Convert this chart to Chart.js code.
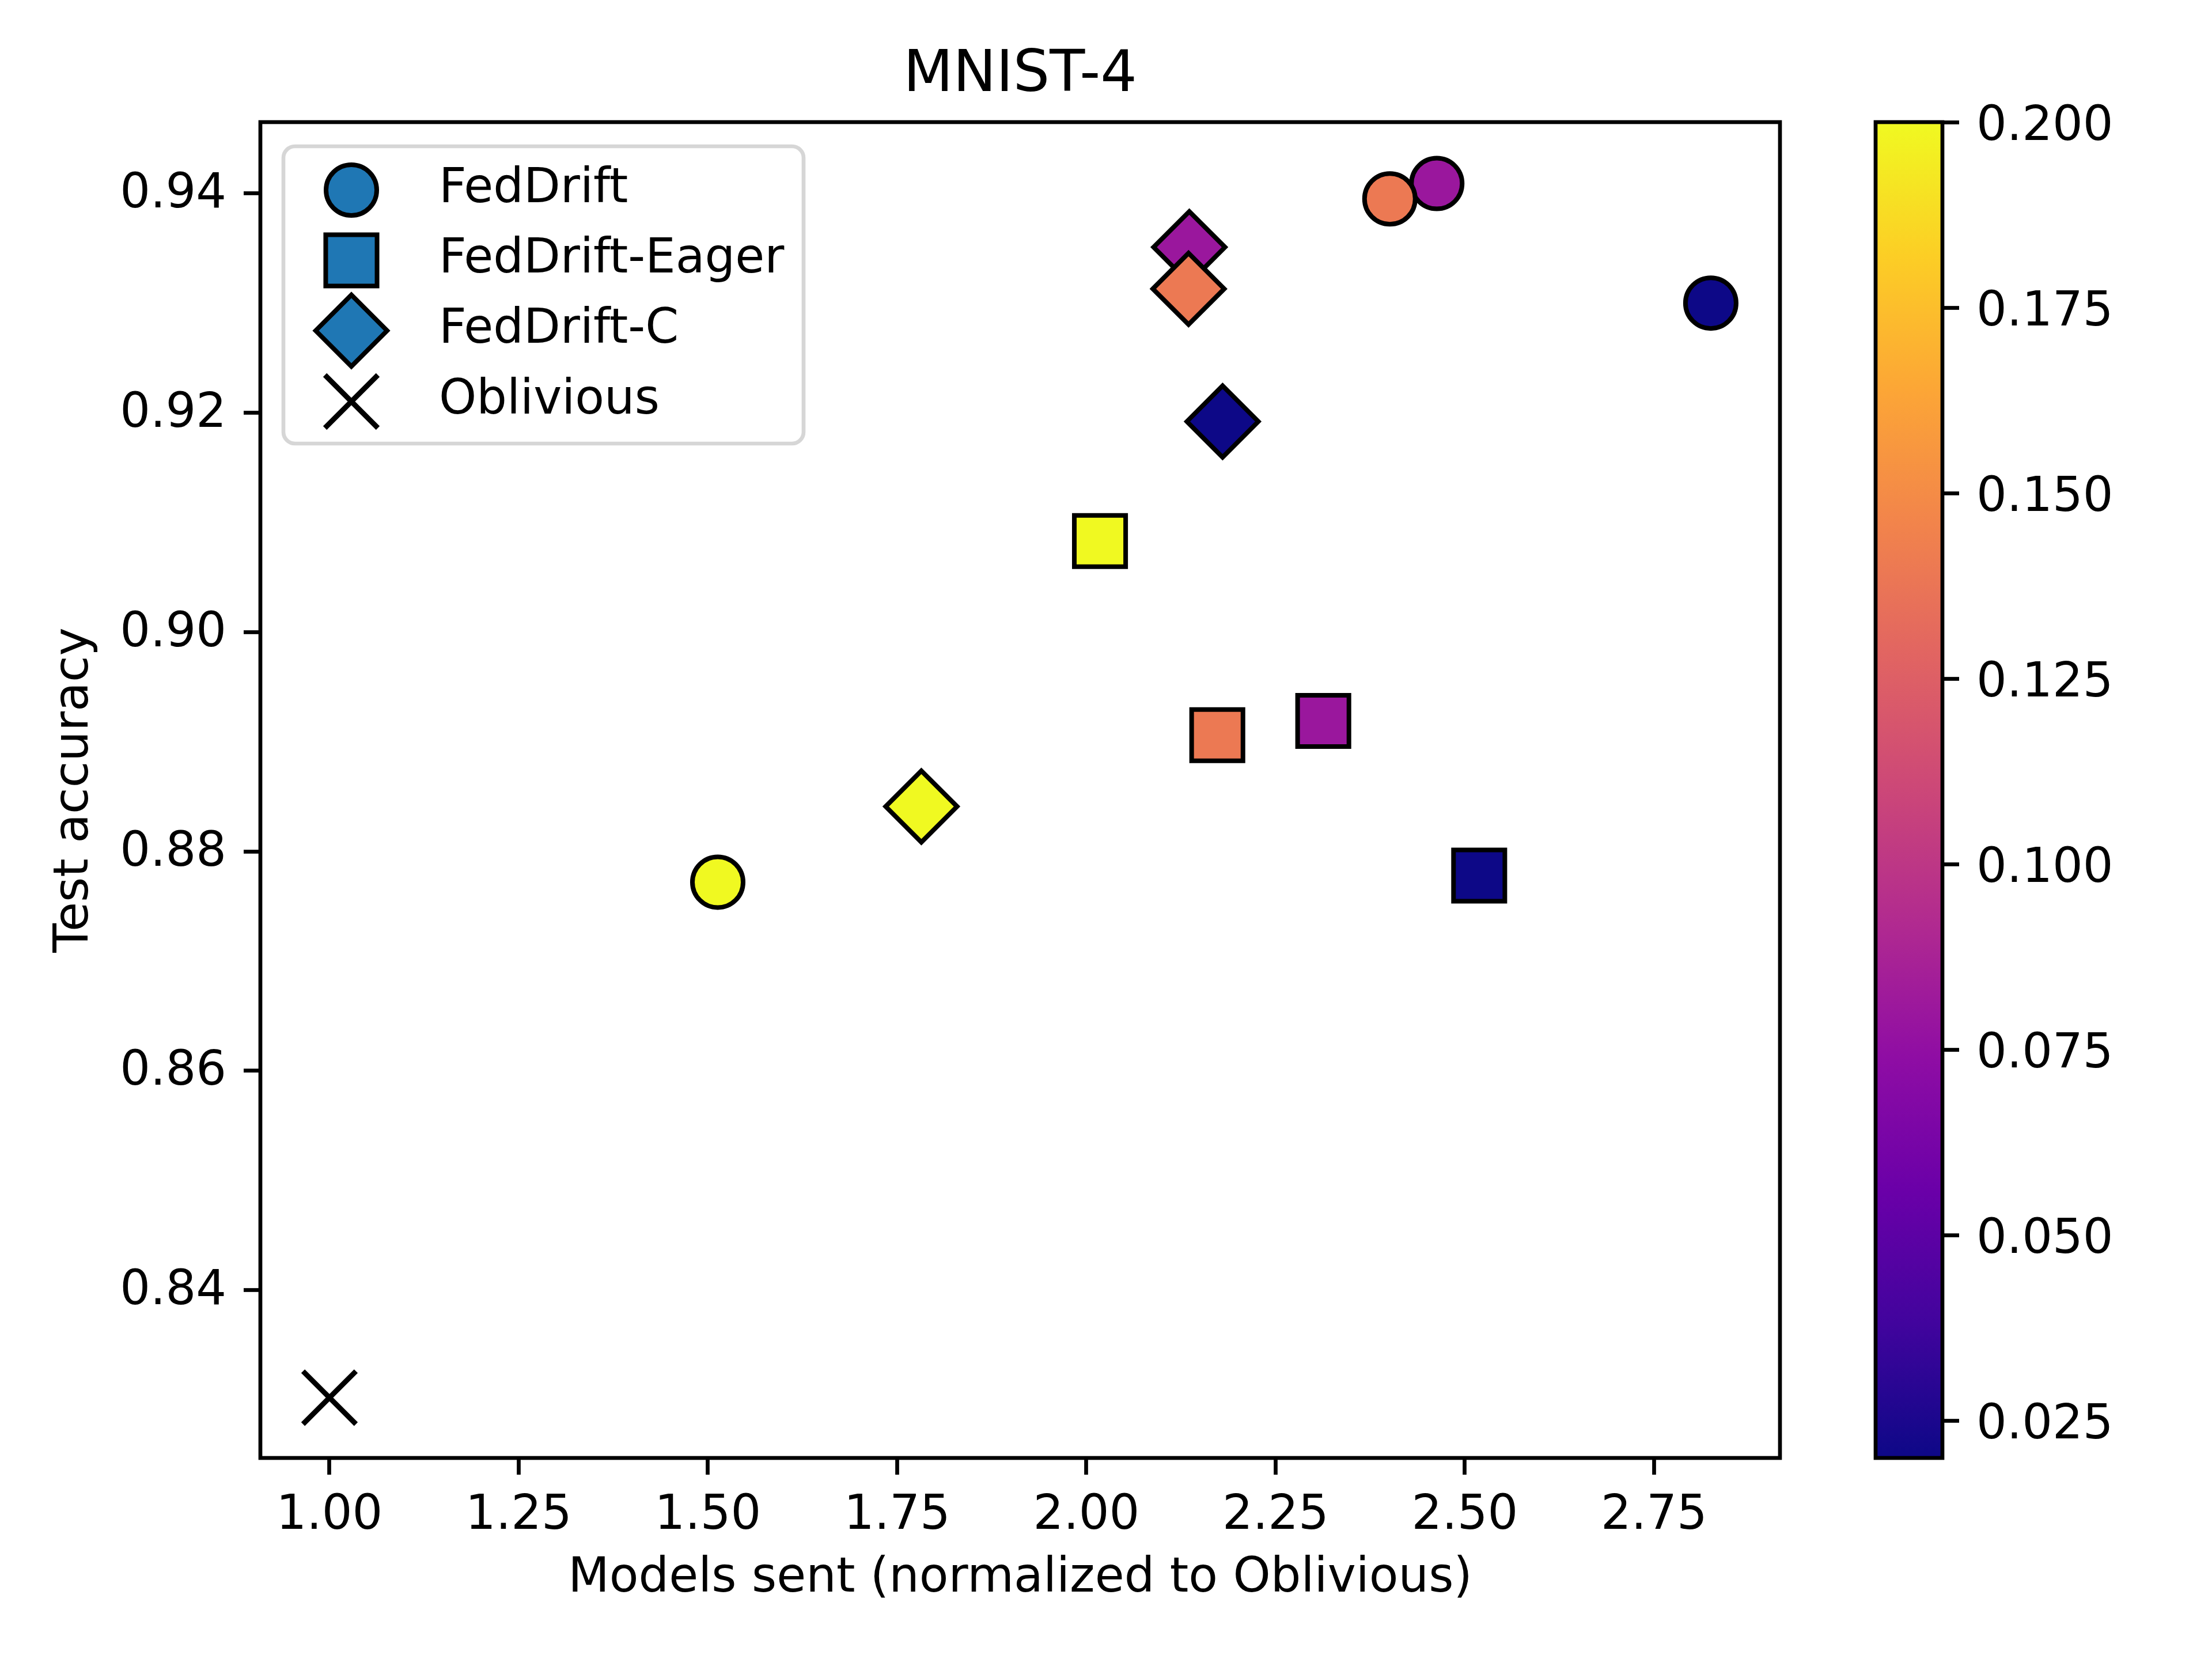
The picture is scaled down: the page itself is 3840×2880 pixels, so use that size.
<!DOCTYPE html>
<html>
<head>
<meta charset="utf-8">
<title>MNIST-4</title>
<script src="https://cdn.jsdelivr.net/npm/chart.js@4.4.1/dist/chart.umd.min.js"></script>
<style>
    html, body { margin: 0; padding: 0; background: #fff; }
    #wrap { position: relative; width: 3840px; height: 2880px; background: #fff; overflow: hidden; }
    #main { position: absolute; left: 0; top: 0; width: 3840px; height: 2880px; }
    #cbar { position: absolute; left: 3100px; top: 0; width: 740px; height: 2880px; }
</style>
</head>
<body>
<div id="wrap">
    <div id="main"><canvas id="scatterChart"></canvas></div>
    <div id="cbar"><canvas id="colorbarChart"></canvas></div>
</div>
<script>
// Values
const seriesNames = ['FedDrift', 'FedDrift-Eager', 'FedDrift-C', 'Oblivious'];
const colorValues = [0.02, 0.08, 0.14, 0.20];   // colour-coded parameter of each point

const fedDriftX = [2.825, 2.463, 2.401, 1.513];
const fedDriftY = [0.9300, 0.9409, 0.9395, 0.8772];
const eagerX = [2.519, 2.313, 2.173, 2.018];
const eagerY = [0.8778, 0.8919, 0.8906, 0.9083];
const clusterX = [2.180, 2.136, 2.135, 1.782];
const clusterY = [0.9192, 0.9351, 0.9313, 0.8841];
const obliviousX = [1.00];
const obliviousY = [0.8302];

const xTicks = [1.00, 1.25, 1.50, 1.75, 2.00, 2.25, 2.50, 2.75];
const yTicks = [0.84, 0.86, 0.88, 0.90, 0.92, 0.94];
const colorTicks = [0.025, 0.050, 0.075, 0.100, 0.125, 0.150, 0.175, 0.200];
const xLimits = [0.9087, 2.9164];
const yLimits = [0.8247, 0.9465];
const colorLimits = [0.02, 0.20];

// plasma colour map, evenly spaced stops
const plasma = ['#0d0887', '#41049d', '#6a00a8', '#8f0da4', '#b12a90', '#cc4778',
                '#e16462', '#f2844b', '#fca636', '#fcce25', '#f0f921'];

const FONT = '"DejaVu Sans", "Liberation Sans", sans-serif';
const TICK_SIZE = 83;
const LINE_W = 6.7;
const LEGEND_BLUE = '#1f77b4';

function hexToRgb(hex) {
    const n = parseInt(hex.slice(1), 16);
    return [(n >> 16) & 255, (n >> 8) & 255, n & 255];
}

function plasmaAt(t) {
    t = Math.min(1, Math.max(0, t));
    const pos = t * (plasma.length - 1);
    const i = Math.min(Math.floor(pos), plasma.length - 2);
    const f = pos - i;
    const a = hexToRgb(plasma[i]);
    const b = hexToRgb(plasma[i + 1]);
    const c = a.map((v, k) => Math.round(v + (b[k] - v) * f));
    return `rgb(${c[0]}, ${c[1]}, ${c[2]})`;
}

function colorFor(v) {
    return plasmaAt((v - colorLimits[0]) / (colorLimits[1] - colorLimits[0]));
}

function toPoints(xs, ys) {
    return xs.map((x, i) => ({ x: x, y: ys[i] }));
}

function makeSeries(label, xs, ys, style, radius, order) {
    return {
        label: label,
        data: toPoints(xs, ys),
        pointStyle: style,
        pointRadius: radius,
        pointHoverRadius: radius,
        pointBackgroundColor: colorValues.map(colorFor),
        pointBorderColor: '#000',
        pointBorderWidth: 8,
        legendColor: LEGEND_BLUE,
        order: order
    };
}

// Axes box (matplotlib draws all four spines)
const framePlugin = {
    id: 'frame',
    afterDraw(chart) {
        const { ctx, chartArea: a } = chart;
        ctx.save();
        ctx.strokeStyle = '#000';
        ctx.lineWidth = LINE_W;
        ctx.strokeRect(a.left, a.top, a.right - a.left, a.bottom - a.top);
        ctx.restore();
    }
};

// Legend in the upper-left corner of the axes, with a rounded frame
const legendPlugin = {
    id: 'boxLegend',
    afterDraw(chart) {
        const { ctx, chartArea: a } = chart;
        const left = a.left + 40, top = a.top + 42, w = 903, h = 516, r = 20;
        const markerX = left + 118, textX = left + 270;
        const rowY = [top + 76, top + 198, top + 320, top + 443];

        ctx.save();
        ctx.beginPath();
        ctx.moveTo(left + r, top);
        ctx.arcTo(left + w, top, left + w, top + h, r);
        ctx.arcTo(left + w, top + h, left, top + h, r);
        ctx.arcTo(left, top + h, left, top, r);
        ctx.arcTo(left, top, left + w, top, r);
        ctx.closePath();
        ctx.fillStyle = 'rgba(255, 255, 255, 0.8)';
        ctx.fill();
        ctx.strokeStyle = '#d6d6d6';
        ctx.lineWidth = LINE_W;
        ctx.stroke();

        chart.data.datasets.forEach((ds, i) => {
            const y = rowY[i];
            ctx.fillStyle = ds.legendColor;
            ctx.strokeStyle = ds.pointBorderColor;
            ctx.lineWidth = ds.pointBorderWidth;
            Chart.helpers.drawPoint(ctx, {
                pointStyle: ds.pointStyle,
                radius: ds.pointRadius,
                borderWidth: ds.pointBorderWidth,
                rotation: 0
            }, markerX, y);

            ctx.fillStyle = '#000';
            ctx.font = `${TICK_SIZE}px ${FONT}`;
            ctx.textAlign = 'left';
            ctx.textBaseline = 'alphabetic';
            ctx.fillText(ds.label, textX, y + 21);
        });
        ctx.restore();
    }
};

const tickGrid = {
    drawOnChartArea: false,
    drawTicks: true,
    tickLength: 29,
    tickWidth: LINE_W,
    tickColor: '#000'
};

new Chart(document.getElementById('scatterChart'), {
    type: 'scatter',
    data: {
        datasets: [
            makeSeries(seriesNames[0], fedDriftX, fedDriftY, 'circle', 44, 3),
            makeSeries(seriesNames[1], eagerX, eagerY, 'rect', 63, 2),
            makeSeries(seriesNames[2], clusterX, clusterY, 'rectRot', 62, 1),
            {
                label: seriesNames[3],
                data: toPoints(obliviousX, obliviousY),
                pointStyle: 'crossRot',
                pointRadius: 65,
                pointHoverRadius: 65,
                pointBackgroundColor: '#000',
                pointBorderColor: '#000',
                pointBorderWidth: 9,
                legendColor: '#000',
                order: 0
            }
        ]
    },
    options: {
        responsive: true,
        maintainAspectRatio: false,
        devicePixelRatio: 1,
        animation: false,
        events: [],
        layout: { padding: { left: 0, top: 0, right: 750, bottom: 0 } },
        plugins: {
            legend: { display: false },
            tooltip: { enabled: false },
            title: {
                display: true,
                text: 'MNIST-4',
                fullSize: false,
                color: '#000',
                font: { family: FONT, size: 100, weight: 'normal', lineHeight: 1.2 },
                padding: { top: 72, bottom: 20 }
            }
        },
        scales: {
            x: {
                type: 'linear',
                min: xLimits[0],
                max: xLimits[1],
                afterBuildTicks: (scale) => { scale.ticks = xTicks.map(v => ({ value: v })); },
                afterFit: (scale) => { scale.height = 349; },
                grid: tickGrid,
                border: { display: false },
                ticks: {
                    padding: 23,
                    color: '#000',
                    autoSkip: false,
                    maxRotation: 0,
                    font: { family: FONT, size: TICK_SIZE, lineHeight: 1.2 },
                    callback: (v) => Number(v).toFixed(2)
                },
                title: {
                    display: true,
                    text: 'Models sent (normalized to Oblivious)',
                    color: '#000',
                    font: { family: FONT, size: TICK_SIZE, lineHeight: 1.2 },
                    padding: { top: 0, bottom: 89 }
                }
            },
            y: {
                type: 'linear',
                min: yLimits[0],
                max: yLimits[1],
                afterBuildTicks: (scale) => { scale.ticks = yTicks.map(v => ({ value: v })); },
                afterFit: (scale) => { scale.width = 452; },
                grid: tickGrid,
                border: { display: false },
                ticks: {
                    padding: 30,
                    labelOffset: 3,
                    color: '#000',
                    autoSkip: false,
                    font: { family: FONT, size: TICK_SIZE, lineHeight: 1.2 },
                    callback: (v) => Number(v).toFixed(2)
                },
                title: {
                    display: true,
                    text: 'Test accuracy',
                    color: '#000',
                    font: { family: FONT, size: TICK_SIZE, lineHeight: 1.2 },
                    padding: { top: 81, bottom: 0 }
                }
            }
        }
    },
    plugins: [framePlugin, legendPlugin]
});

// Colour bar: one floating bar spanning the colour range, filled with plasma
new Chart(document.getElementById('colorbarChart'), {
    type: 'bar',
    data: {
        labels: [''],
        datasets: [{
            data: [colorLimits],
            backgroundColor: (context) => {
                const area = context.chart.chartArea;
                if (!area) return plasma[0];
                const g = context.chart.ctx.createLinearGradient(0, area.bottom, 0, area.top);
                plasma.forEach((c, i) => g.addColorStop(i / (plasma.length - 1), c));
                return g;
            },
            borderWidth: 0,
            barPercentage: 1,
            categoryPercentage: 1
        }]
    },
    options: {
        responsive: true,
        maintainAspectRatio: false,
        devicePixelRatio: 1,
        animation: false,
        events: [],
        layout: { padding: { left: 156, top: 212, right: 0, bottom: 349 } },
        plugins: {
            legend: { display: false },
            tooltip: { enabled: false }
        },
        scales: {
            x: { display: false },
            y: {
                type: 'linear',
                position: 'right',
                min: colorLimits[0],
                max: colorLimits[1],
                afterBuildTicks: (scale) => { scale.ticks = colorTicks.map(v => ({ value: v })); },
                afterFit: (scale) => { scale.width = 468; },
                grid: tickGrid,
                border: { display: false },
                ticks: {
                    padding: 30,
                    labelOffset: 9,
                    color: '#000',
                    autoSkip: false,
                    font: { family: FONT, size: TICK_SIZE, lineHeight: 1.2 },
                    callback: (v) => Number(v).toFixed(3)
                }
            }
        }
    },
    plugins: [framePlugin]
});
</script>
</body>
</html>
